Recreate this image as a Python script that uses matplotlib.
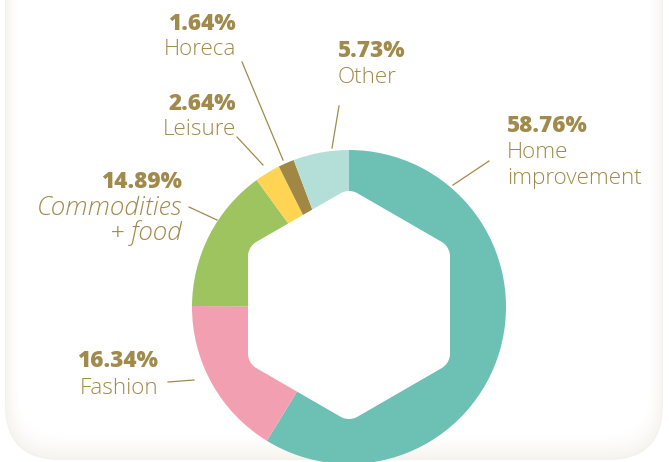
import numpy as np
import matplotlib
matplotlib.use("Agg")
import matplotlib.pyplot as plt
from matplotlib.patches import FancyBboxPatch, Polygon

# ---- data ----
categories = ["Home\nimprovement", "Fashion", "Commodities\n+ food", "Leisure", "Horeca", "Other"]
shares = [58.76, 16.34, 14.89, 2.64, 1.64, 5.73]
pct_labels = ["58.76%", "16.34%", "14.89%", "2.64%", "1.64%", "5.73%"]
colors = ["#6dc0b4", "#f29fb1", "#9dc45f", "#fed452", "#a08844", "#b4dfd9"]

TXT = "#a08a4c"
W, H = 669, 462
fig = plt.figure(figsize=(W / 100, H / 100), dpi=100)
fig.patch.set_facecolor("white")

# background axes in pixel coordinates (y down)
bg = fig.add_axes([0, 0, 1, 1])
bg.set_xlim(0, W)
bg.set_ylim(H, 0)
bg.axis("off")

# card with soft cream edge
x0, x1, y0, y1 = 5, 663, -60, 460
n = 14
c0 = np.array(matplotlib.colors.to_rgb("#f4f2ec"))
c1 = np.array([1, 1, 1])
for i in range(n):
    t = (i / (n - 1)) ** 0.6
    col = c0 * (1 - t) + c1 * t
    rad = max(55 - i, 5)
    bg.add_patch(FancyBboxPatch((x0 + i + rad, y0 + rad), (x1 - x0 - 2 * i) - 2 * rad,
                                (y1 - y0 - 2 * i) - 2 * rad,
                                boxstyle=f"round,pad={rad}", fc=col, ec="none", zorder=1))

# pie axes: center (349, 307) px, radius 157 px
cx, cy, R = 349, 307, 157
pie_ax = fig.add_axes([(cx - R) / W, (H - cy - R) / H, 2 * R / W, 2 * R / H])
pie_ax.pie(shares, colors=colors, startangle=90, counterclock=False, radius=1,
           wedgeprops=dict(linewidth=0))
pie_ax.set_xlim(-1, 1)
pie_ax.set_ylim(-1, 1)
pie_ax.set_aspect("equal")
pie_ax.axis("off")

# rounded hexagonal hole
Rs, r = 97 / R, 17 / R
hcy = 2 / R
pts = []
for k in range(6):
    a = np.deg2rad(90 + 60 * k)
    vx, vy = Rs * np.cos(a), hcy + Rs * np.sin(a)
    for b in np.linspace(a - np.pi / 6, a + np.pi / 6, 12):
        pts.append((vx + r * np.cos(b), vy + r * np.sin(b)))
pie_ax.add_patch(Polygon(pts, closed=True, fc="white", ec="none", zorder=5))

# labels (pixel layout)
layout = {
    # idx: (x, ha, pct_baseline, last_name_baseline, style, fontsize, linespacing)
    0: (507, "left", 132, 184, "normal", 16.2, 1.33),
    1: (158, "right", 367, 394, "normal", 16.2, 1.2),
    2: (182, "right", 188, 240, "italic", 18.8, 0.93),
    3: (236, "right", 110, 135, "normal", 16.2, 1.2),
    4: (236, "right", 30, 55, "normal", 16.2, 1.2),
    5: (338, "left", 57, 83, "normal", 16.2, 1.2),
}
leaders = {
    0: ((489, 161), (453, 185)),
    1: ((168, 382), (194, 380)),
    2: ((189, 207), (217, 220)),
    3: ((237, 137), (263, 165)),
    4: ((242, 62), (283, 160)),
    5: ((339, 106), (332, 148)),
}
fs = 16.2
for i, (x, ha, yb, yn, style, nfs, ls) in layout.items():
    bg.text(x, yb, pct_labels[i], ha=ha, va="baseline", fontsize=fs, fontweight="heavy",
            family="Open Sans", color=TXT, zorder=10)
    bg.text(x, yn, categories[i], ha=ha, va="baseline", multialignment=ha,
            linespacing=ls, fontsize=nfs, family="Open Sans",
            fontweight="light", style=style, color=TXT, zorder=10)
    (a1, b1), (a2, b2) = leaders[i]
    bg.plot([a1, a2], [b1, b2], color=TXT, lw=0.9, zorder=10)

fig.savefig("out.png", dpi=100, facecolor="white")
